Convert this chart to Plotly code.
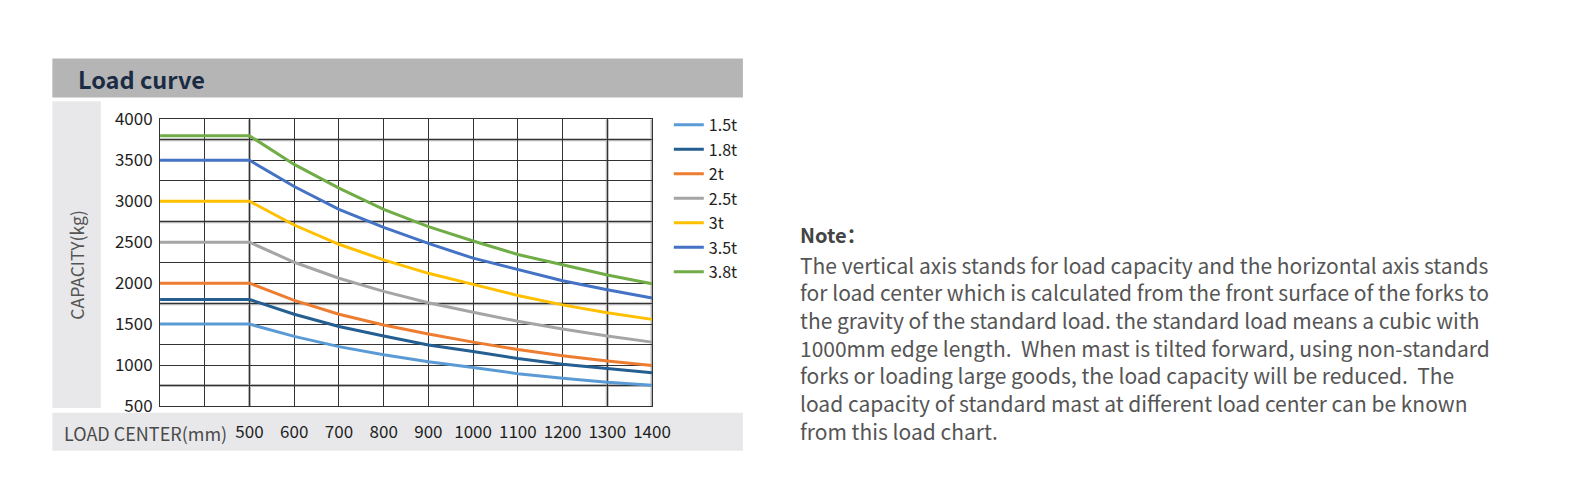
import plotly.graph_objects as go

W, H = 1571, 492

load_center = [300, 400, 500, 600, 700, 800, 900, 1000, 1100, 1200, 1300, 1400]
series_names = ["1.5t", "1.8t", "2t", "2.5t", "3t", "3.5t", "3.8t"]
cap_1_5t = [1500, 1500, 1500, 1350, 1225, 1125, 1040, 970, 895, 840, 790, 755]
cap_1_8t = [1800, 1800, 1800, 1620, 1470, 1355, 1245, 1165, 1080, 1010, 955, 905]
cap_2t = [2000, 2000, 2000, 1790, 1620, 1490, 1380, 1280, 1190, 1115, 1050, 995]
cap_2_5t = [2500, 2500, 2500, 2255, 2060, 1900, 1760, 1645, 1535, 1440, 1355, 1280]
cap_3t = [3000, 3000, 3000, 2710, 2475, 2285, 2120, 1985, 1850, 1735, 1640, 1558]
cap_3_5t = [3500, 3500, 3500, 3180, 2900, 2680, 2485, 2305, 2165, 2030, 1920, 1820]
cap_3_8t = [3800, 3800, 3800, 3450, 3160, 2900, 2690, 2515, 2350, 2225, 2100, 1993]
series_values = [cap_1_5t, cap_1_8t, cap_2t, cap_2_5t, cap_3t, cap_3_5t, cap_3_8t]
series_colors = ["#5b9bd5", "#255e91", "#ed7d31", "#a5a5a5", "#ffc000", "#4472c4", "#70ad47"]

x_tick_vals = [500, 600, 700, 800, 900, 1000, 1100, 1200, 1300, 1400]
y_tick_vals = [500, 1000, 1500, 2000, 2500, 3000, 3500, 4000]

note_title = "Note："
note_lines = [
    "The vertical axis stands for load capacity and the horizontal axis stands",
    "for load center which is calculated from the front surface of the forks to",
    "the gravity of the standard load. the standard load means a cubic with",
    "1000mm edge length.  When mast is tilted forward, using non-standard",
    "forks or loading large goods, the load capacity will be reduced.  The",
    "load capacity of standard mast at different load center can be known",
    "from this load chart.",
]

FONT = "Noto Sans CJK SC"


def px(x):
    return x / W


def py(y):
    return 1 - y / H


fig = go.Figure()
for name, vals, col in zip(series_names, series_values, series_colors):
    fig.add_trace(go.Scatter(
        x=load_center, y=vals, name=name, mode="lines",
        line=dict(color=col, width=3), legendgroup=name,
    ))

shapes = []
shapes.append(dict(type="rect", xref="paper", yref="paper", x0=px(53), x1=px(752),
                   y0=py(88), y1=py(47), fillcolor="#b5b5b5", line_width=0, layer="below"))
shapes.append(dict(type="rect", xref="paper", yref="paper", x0=px(53), x1=px(102),
                   y0=py(415), y1=py(92), fillcolor="#e8e8ea", line_width=0, layer="below"))
shapes.append(dict(type="rect", xref="paper", yref="paper", x0=px(53), x1=px(752),
                   y0=py(460), y1=py(420), fillcolor="#e8e8ea", line_width=0, layer="below"))
for yv in [750, 1750, 2750, 3750]:
    shapes.append(dict(type="line", xref="x", yref="y", x0=300, x1=1400, y0=yv, y1=yv,
                       line=dict(color="#b4b4b4", width=3), layer="below"))
for xv in [500, 1300, 1400]:
    shapes.append(dict(type="line", xref="x", yref="y", x0=xv, x1=xv, y0=500, y1=4000,
                       line=dict(color="#b4b4b4", width=3), layer="below"))

annotations = []
annotations.append(dict(text="<b>Load curve</b>", xref="paper", yref="paper", x=px(77), y=py(68),
                        xanchor="left", yanchor="middle", showarrow=False,
                        font=dict(family=FONT, size=23.5, color="#1a2b44")))
annotations.append(dict(text="CAPACITY(kg)", xref="paper", yref="paper", x=px(78), y=py(264),
                        xanchor="center", yanchor="middle", showarrow=False, textangle=-90,
                        font=dict(family=FONT, size=17.5, color="#555555")))
annotations.append(dict(text="LOAD CENTER(mm)", xref="paper", yref="paper", x=px(63), y=py(441),
                        xanchor="left", yanchor="middle", showarrow=False,
                        font=dict(family=FONT, size=18, color="#4a4a4a")))
annotations.append(dict(text="<b>" + note_title + "</b>", xref="paper", yref="paper", x=px(808), y=py(232),
                        xanchor="left", yanchor="middle", showarrow=False,
                        font=dict(family=FONT, size=20, color="#444444")))
for i, line in enumerate(note_lines):
    annotations.append(dict(text=line, xref="paper", yref="paper", x=px(808), y=py(264 + i * 29.2),
                            xanchor="left", yanchor="middle", showarrow=False,
                            font=dict(family=FONT, size=21, color="#555555")))

fig.update_layout(
    width=W, height=H,
    margin=dict(l=0, r=0, t=0, b=0),
    paper_bgcolor="white", plot_bgcolor="white",
    font=dict(family=FONT, size=16, color="#222222"),
    shapes=shapes, annotations=annotations,
    showlegend=True,
    legend=dict(x=px(677), y=py(99), xanchor="left", yanchor="top",
                font=dict(family=FONT, size=16, color="#222222"),
                traceorder="grouped", tracegroupgap=0.7, bgcolor="rgba(0,0,0,0)"),
    xaxis=dict(domain=[px(162), px(660)], range=[300, 1400],
               tickvals=x_tick_vals, ticktext=[str(v) for v in x_tick_vals],
               showgrid=True, gridcolor="#333333", gridwidth=1,
               minor=dict(tick0=300, dtick=100, showgrid=True, gridcolor="#333333", gridwidth=1),
               showline=True, mirror=True, linecolor="#333333", linewidth=1,
               ticks="outside", ticklen=11, tickcolor="rgba(0,0,0,0)",
               zeroline=False, tickfont=dict(family=FONT, size=17, color="#1e1e1e")),
    yaxis=dict(domain=[1 - 413 / H, 1 - 111 / H], range=[500, 4000],
               tickvals=y_tick_vals, ticktext=[str(v) for v in y_tick_vals],
               showgrid=True, gridcolor="#333333", gridwidth=1,
               minor=dict(tick0=500, dtick=250, showgrid=True, gridcolor="#333333", gridwidth=1),
               showline=True, mirror=True, linecolor="#333333", linewidth=1,
               ticks="outside", ticklen=3, tickcolor="rgba(0,0,0,0)",
               zeroline=False, tickfont=dict(family=FONT, size=17, color="#1e1e1e")),
)

fig.write_html(
    "out.html",
    config={"displayModeBar": False},
    post_script="document.body.style.margin='0';document.body.style.overflow='hidden';",
)
